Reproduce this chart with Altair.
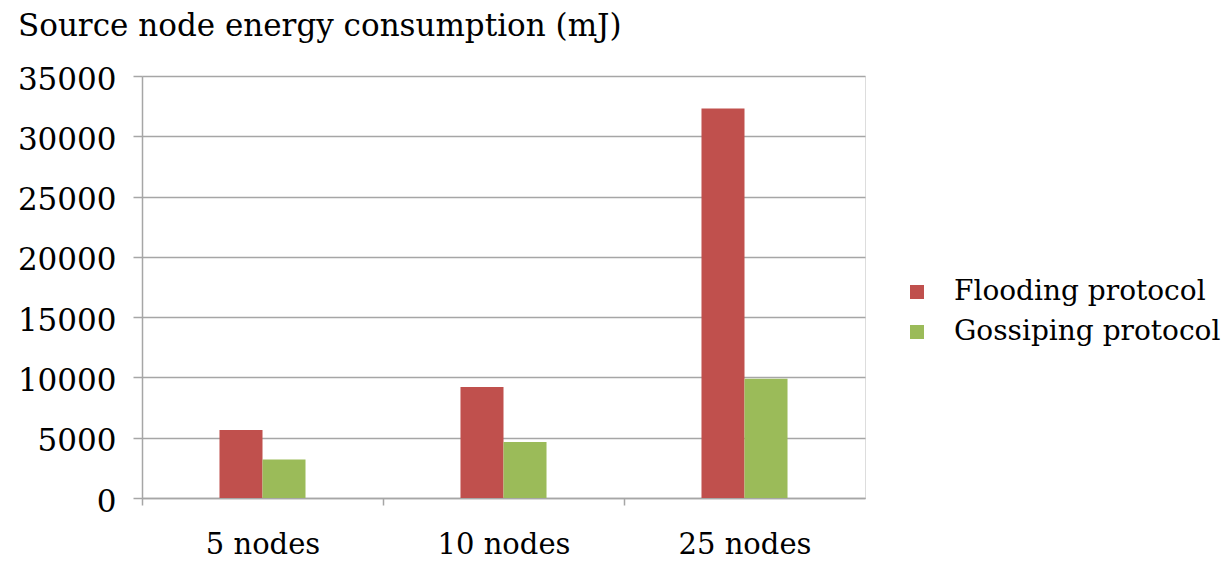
import altair as alt
import pandas as pd

categories = ["5 nodes", "10 nodes", "25 nodes"]
flooding = [5650, 9200, 32300]
gossiping = [3200, 4650, 9900]
series = ["Flooding protocol", "Gossiping protocol"]

rows = []
for c, f, g in zip(categories, flooding, gossiping):
    rows.append({"cat": c, "series": series[0], "value": f})
    rows.append({"cat": c, "series": series[1], "value": g})
df = pd.DataFrame(rows)

FONT = "DejaVu Serif"
GRID = "#A6A6A6"

chart = alt.Chart(df).mark_bar().encode(
    x=alt.X("cat:N", sort=categories, title=None,
            scale=alt.Scale(paddingInner=0.643, paddingOuter=0.3215),
            axis=alt.Axis(labelAngle=0, labelFont=FONT, labelFontSize=29, labelColor="#000000",
                          domainColor=GRID, domainWidth=1.5, tickColor=GRID, tickWidth=1.5,
                          tickSize=7, tickOffset=-120.5, labelOffset=120.5, labelPadding=25)),
    xOffset=alt.XOffset("series:N", sort=series),
    y=alt.Y("value:Q", title=None,
            scale=alt.Scale(domain=[0, 35000], nice=False),
            axis=alt.Axis(values=[0, 5000, 10000, 15000, 20000, 25000, 30000, 35000], format="d",
                          labelFont=FONT, labelFontSize=31, labelColor="#000000",
                          gridColor=GRID, gridWidth=1.5, domainColor=GRID, domainWidth=1.5,
                          tickColor=GRID, tickWidth=1.5, tickSize=9, labelPadding=17,
                          labelOffset=4)),
    color=alt.Color("series:N", sort=series, title=None,
                    scale=alt.Scale(domain=series, range=["#C0504D", "#9BBB59"]),
                    legend=alt.Legend(orient="none", legendX=761, legendY=202,
                                      labelFont=FONT, labelFontSize=28, labelColor="#000000",
                                      labelLimit=400,
                                      symbolType="square", symbolSize=196, symbolStrokeWidth=0,
                                      labelOffset=23, rowPadding=12, padding=0)),
).properties(
    width=723,
    height=422,
    title=alt.TitleParams("Source node energy consumption (mJ)", font=FONT, fontSize=31,
                          fontWeight="normal", color="#000000", anchor="start",
                          baseline="alphabetic", offset=22, dx=-124, dy=25, frame="group"),
    autosize=alt.AutoSizeParams(type="none"),
    padding={"left": 142, "top": 76, "right": 358, "bottom": 63},
).configure_view(stroke=None).configure(background="white")

chart.save("out.html", embed_options={"renderer": "svg", "actions": False})
